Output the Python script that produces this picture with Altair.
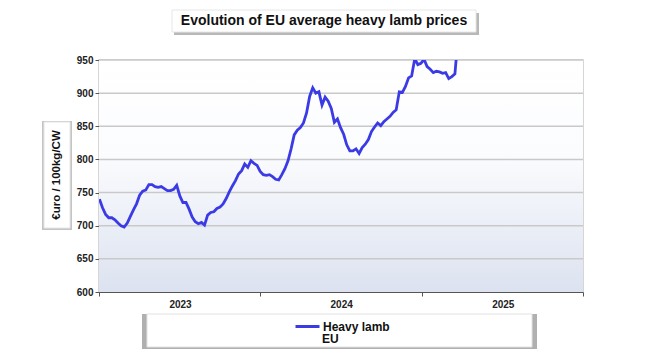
import altair as alt
import pandas as pd

# ---- data (weekly EU heavy lamb price, €/100kg CW) ----
start_date = "2023-01-02"
prices = [
    740, 727, 717, 712, 712, 709, 704, 700, 698, 704,
    714, 724, 733, 746, 752, 754, 762, 762, 759, 758,
    759, 756, 753, 753, 755, 761, 745, 735, 735, 725,
    713, 706, 703, 705, 701, 716, 720, 721, 726, 728,
    733, 741, 751, 760, 768, 778, 783, 793, 788, 798,
    794, 791, 782, 777, 776, 777, 774, 770, 769, 777,
    786, 798, 816, 837, 844, 848, 855, 870, 895, 908,
    900, 902, 882, 894, 888, 877, 856, 861, 848, 838,
    822, 813, 813, 816, 809, 818, 823, 830, 842, 849,
    855, 851, 857, 861, 865, 871, 875, 902, 901, 910,
    923, 926, 952, 943, 945, 951, 940, 936, 931, 933,
    932, 930, 931, 922, 925, 929, 985,
]
series_name = "Heavy lamb"
series_sub = "EU"
y_ticks = [600, 650, 700, 750, 800, 850, 900, 950]
grid_values = [650, 700, 750, 800, 850, 900, 950]
year_ticks = [2023, 2024, 2025, 2026]
title_text = "Evolution of EU average heavy lamb prices"
y_title_text = "€uro / 100kg/CW"

FONT = "Liberation Sans"
W, H = 484, 232

dates = pd.date_range(start_date, periods=len(prices), freq="7D")
df = pd.DataFrame({"date": dates, "price": prices, "series": series_name})
one = pd.DataFrame({"k": [0]})

x_scale = alt.Scale(domain=[alt.DateTime(year=2023, month=1, date=1),
                            alt.DateTime(year=2026, month=1, date=1)])
y_scale = alt.Scale(domain=[600, 950], nice=False, zero=False)
y_axis = alt.Axis(values=y_ticks, grid=False, domainColor="#555", title=None,
                  tickColor="#555", tickSize=4, labelFont=FONT,
                  labelFontWeight="bold", labelFontSize=10, labelColor="#222",
                  labelPadding=2)

# plot background gradient
bg = alt.Chart(one).mark_rect(
    color=alt.LinearGradient(
        gradient="linear", x1=0, x2=0, y1=0, y2=1,
        stops=[alt.GradientStop(color="#ffffff", offset=0),
               alt.GradientStop(color="#fbfcfe", offset=0.4),
               alt.GradientStop(color="#dce2f0", offset=1)]),
).encode(x=alt.value(0), x2=alt.value(W), y=alt.value(0), y2=alt.value(H))

grid = alt.Chart(pd.DataFrame({"v": grid_values})).mark_rule(
    color="#c9c9c9", strokeWidth=1.5
).encode(y=alt.Y("v:Q", scale=y_scale, axis=y_axis, title=None))

line = alt.Chart(df).mark_line(strokeWidth=2.8, clip=True).encode(
    x=alt.X("date:T", scale=x_scale, title=None,
            axis=alt.Axis(values=[alt.DateTime(year=y, month=1, date=1) for y in year_ticks],
                          labelExpr="year(datum.value) >= 2026 ? '' : timeFormat(datum.value, '%Y')",
                          labelOffset=81, labelAlign="center", grid=False,
                          domainColor="#555", tickColor="#555", tickSize=4,
                          labelFont=FONT, labelFontWeight="bold", labelFontSize=10,
                          labelColor="#222", labelPadding=3)),
    y=alt.Y("price:Q", scale=y_scale, title=None, axis=y_axis),
    color=alt.Color("series:N", scale=alt.Scale(range=["#3b3be6"]),
                    legend=alt.Legend(orient="none", legendX=195, legendY=253, title=None,
                                      symbolType="stroke", symbolStrokeWidth=3,
                                      symbolSize=576, padding=0,
                                      labelFont=FONT, labelFontWeight="bold",
                                      labelFontSize=12, labelColor="#111",
                                      labelBaseline="middle", labelOffset=2)),
)

# title box
title_shadow = alt.Chart(one).mark_rect(color="#9a9a9a", opacity=0.7).encode(
    x=alt.value(75), x2=alt.value(380), y=alt.value(-47), y2=alt.value(-25))
title_box = alt.Chart(one).mark_rect(color="#ffffff", stroke="#e6e6e6").encode(
    x=alt.value(73), x2=alt.value(377), y=alt.value(-50), y2=alt.value(-28))
title = alt.Chart(one).mark_text(text=title_text, font=FONT, fontWeight="bold",
                                 fontSize=14, color="#111", align="center",
                                 baseline="middle").encode(
    x=alt.value(225), y=alt.value(-39))

# y title box
yt_shadow = alt.Chart(one).mark_rect(color="#b5b5b5", opacity=0.8).encode(
    x=alt.value(-57), x2=alt.value(-27), y=alt.value(61), y2=alt.value(170))
yt_box = alt.Chart(one).mark_rect(color="#ffffff", stroke="#e6e6e6").encode(
    x=alt.value(-55), x2=alt.value(-29), y=alt.value(62), y2=alt.value(168))
yt = alt.Chart(one).mark_text(text=y_title_text, font=FONT, fontWeight="bold",
                              fontSize=11.5, color="#111", angle=270, align="center",
                              baseline="middle").encode(
    x=alt.value(-42), y=alt.value(115))

# legend box
lg_shadow = alt.Chart(one).mark_rect(color="#b0b0b0").encode(
    x=alt.value(43), x2=alt.value(438), y=alt.value(254), y2=alt.value(289))
lg_box = alt.Chart(one).mark_rect(color="#ffffff", stroke="#e2e2e2").encode(
    x=alt.value(48), x2=alt.value(433), y=alt.value(254), y2=alt.value(287))
lg_sub = alt.Chart(one).mark_text(text=series_sub, font=FONT, fontWeight="bold",
                                  fontSize=12, color="#111", align="left",
                                  baseline="middle").encode(
    x=alt.value(223), y=alt.value(279))

chart = alt.layer(
    bg, grid, line, title_shadow, title_box, title, yt_shadow, yt_box, yt,
    lg_shadow, lg_box, lg_sub,
).resolve_scale(color="independent").properties(
    width=W, height=H,
    autosize=alt.AutoSizeParams(type="none"),
    padding={"left": 99, "top": 60, "right": 77, "bottom": 61},
    background="#ffffff",
).configure_view(stroke="#c9c9c9", strokeWidth=1.5)

chart.save("out.html", embed_options={"renderer": "svg", "actions": False})
